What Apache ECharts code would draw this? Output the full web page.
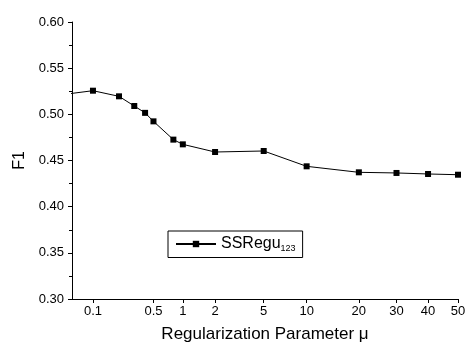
<!DOCTYPE html>
<html>
<head>
<meta charset="utf-8">
<script src="https://cdn.jsdelivr.net/npm/echarts@6/dist/echarts.min.js"></script>
<style>
  html, body { margin: 0; padding: 0; background: #fff; }
  #chart { width: 468px; height: 343px; }
</style>
</head>
<body>
<div id="chart"></div>
<script>
// x values (mu) and F1; the first point sits left of the axis and is clipped
const muValues = [0.05, 0.1, 0.2, 0.3, 0.4, 0.5, 0.8, 1, 2, 5, 10, 20, 30, 40, 50];
const f1Values = [0.522, 0.5256, 0.5195, 0.509, 0.5016, 0.4924, 0.4726, 0.4675, 0.4592, 0.4603, 0.4437, 0.4372, 0.4365, 0.4354, 0.4346];

// x axis of the original is a non-uniform (piecewise log) scale
const xTickLabels = [0.1, 0.5, 1, 2, 5, 10, 20, 30, 40, 50];
const xTickPos = [21.0, 81.6, 111, 143.3, 192, 235, 287.3, 325, 356.6, 386.6];
const xAxisMax = 386.6;

const yTicks = [0.30, 0.35, 0.40, 0.45, 0.50, 0.55, 0.60];

// map mu onto the warped axis, log interpolation between labelled ticks
function warp(mu) {
  let i = 0;
  while (i < xTickLabels.length - 2 && mu > xTickLabels[i + 1]) i++;
  const a = xTickLabels[i], b = xTickLabels[i + 1];
  const t = Math.log(mu / a) / Math.log(b / a);
  return xTickPos[i] + (xTickPos[i + 1] - xTickPos[i]) * t;
}

const seriesData = muValues.map((mu, i) => [warp(mu), f1Values[i]]);

const myChart = echarts.init(document.getElementById('chart'), null, { renderer: 'canvas' });
const font = 'Liberation Sans, Arial, sans-serif';

myChart.setOption({
  animation: false,
  backgroundColor: '#fff',
  grid: { left: 72, right: 10, top: 22, bottom: 44, outerBoundsMode: 'none', containLabel: false },
  legend: {
    left: 168,
    top: 231,
    orient: 'vertical',
    borderColor: '#000',
    borderWidth: 1,
    padding: [5, 7, 4, 7],
    itemWidth: 40,
    itemHeight: 8,
    itemGap: 0,
    textStyle: {
      fontFamily: font,
      color: '#000',
      rich: {
        main: { fontSize: 16, fontFamily: font, color: '#000' },
        sub: { fontSize: 9, fontFamily: font, color: '#000', padding: [10, 0, 0, 0] }
      }
    },
    formatter: () => '{main|SSRegu}{sub|123}',
    data: ['SSRegu123']
  },
  xAxis: {
    type: 'value',
    min: 0,
    max: xAxisMax,
    name: 'Regularization Parameter \u03bc',
    nameLocation: 'middle',
    nameGap: 27,
    nameTextStyle: { fontFamily: font, fontSize: 17, color: '#000' },
    splitLine: { show: false },
    axisLine: { lineStyle: { color: '#000', width: 1 } },
    axisTick: { customValues: xTickPos, length: 4, lineStyle: { color: '#000' } },
    axisLabel: {
      customValues: xTickPos,
      fontFamily: font,
      fontSize: 13,
      color: '#000',
      margin: 6,
      formatter: (v) => {
        const i = xTickPos.findIndex(p => Math.abs(p - v) < 1e-6);
        return i >= 0 ? String(xTickLabels[i]) : '';
      }
    }
  },
  yAxis: {
    type: 'value',
    min: yTicks[0],
    max: yTicks[yTicks.length - 1],
    interval: 0.05,
    name: 'F1',
    nameLocation: 'middle',
    nameGap: 44,
    nameTextStyle: { fontFamily: font, fontSize: 16, color: '#000' },
    splitLine: { show: false },
    axisLine: { show: true, lineStyle: { color: '#000', width: 1 } },
    axisTick: { length: 4, lineStyle: { color: '#000' } },
    minorTick: { show: true, splitNumber: 2, length: 3, lineStyle: { color: '#000' } },
    axisLabel: {
      fontFamily: font,
      fontSize: 13,
      color: '#000',
      margin: 8,
      formatter: (v) => v.toFixed(2)
    }
  },
  series: [{
    name: 'SSRegu123',
    type: 'line',
    clip: true,
    data: seriesData,
    symbol: 'rect',
    symbolSize: 6,
    itemStyle: { color: '#000' },
    lineStyle: { color: '#000', width: 1 }
  }]
});
</script>
</body>
</html>
